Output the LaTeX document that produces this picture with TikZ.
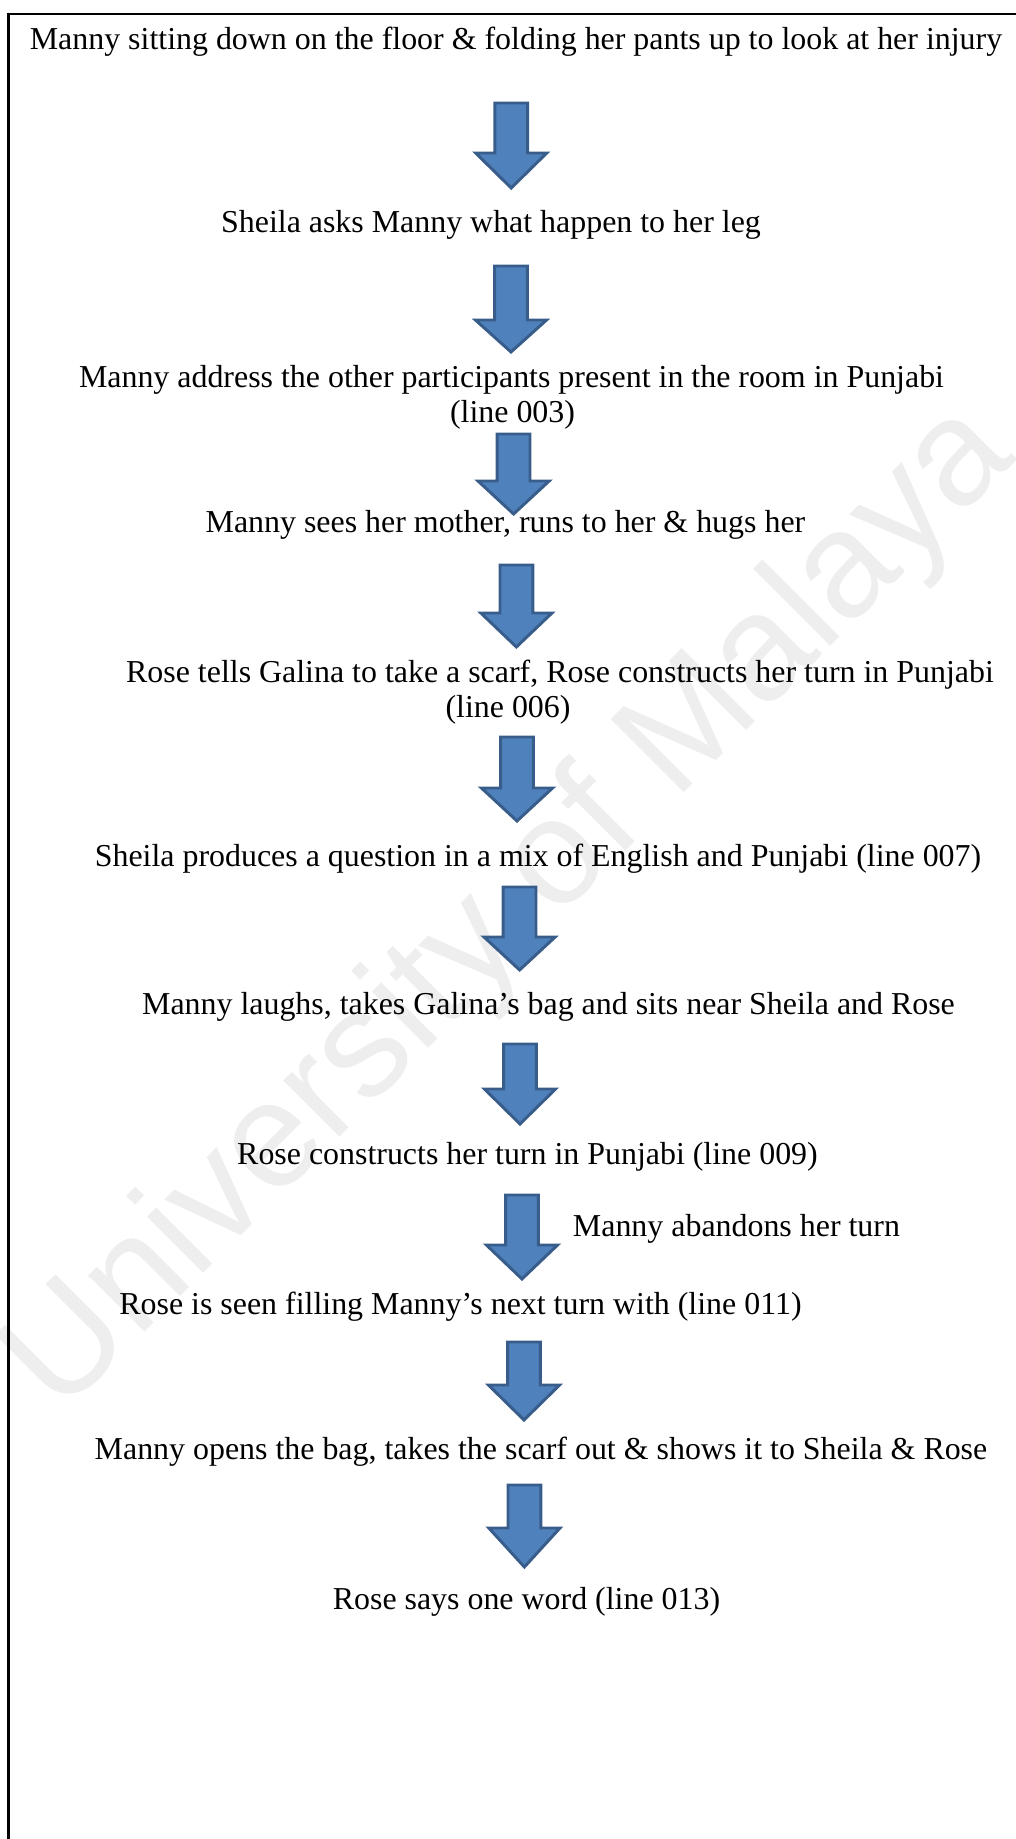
\documentclass[tikz,border=0pt]{standalone}
\usepackage{fontspec}
\setmainfont{Liberation Serif}
\newfontfamily\wmfamily{Liberation Sans}
\usepackage{tikz}
\definecolor{arrfill}{HTML}{4F81BD}
\definecolor{arrline}{HTML}{385D8A}
\definecolor{wmgray}{HTML}{EEEEEE}

% block arrow pointing down: x, top of shaft, top of head, tip
\newcommand{\downblock}[4]{%
  \draw[blockarr] (#1-0.41,#2) -- (#1+0.41,#2) -- (#1+0.41,#3) -- (#1+0.89,#3)
    -- (#1,#4) -- (#1-0.89,#3) -- (#1-0.41,#3) -- cycle;}

\begin{document}
\begin{tikzpicture}[
    txt/.style={font=\fontsize{22.7}{25}\selectfont, anchor=base, inner sep=0pt},
    blockarr/.style={fill=arrfill, draw=arrline, line width=2.1pt, line join=miter}
]
    \useasboundingbox (0,0) rectangle (25.4,45.975);

    % Watermark
    \node[rotate=45, text=wmgray, font=\wmfamily\fontsize{107}{107}\selectfont] (wm) at (12.8,23.225) {University of Malaya};

    % Frame (left and top edges only)
    \draw[line width=1.9pt] (0.2175,0) |- (25.4,45.625);

    % Steps
    \node[txt] (sit) at (12.9,44.725) {Manny sitting down on the floor \& folding her pants up to look at her injury};
    \node[txt] (ask) at (12.275,40.15) {Sheila asks Manny what happen to her leg};
    \node[txt] (address) at (12.7875,36.275) {Manny address the other participants present in the room in Punjabi};
    \node[txt] (addressline) at (12.8125,35.4) {(line 003)};
    \node[txt] (mother) at (12.6375,32.65) {Manny sees her mother, runs to her \& hugs her};
    \node[txt] (scarf) at (14.0,28.9) {Rose tells Galina to take a scarf, Rose constructs her turn in Punjabi};
    \node[txt] (scarfline) at (12.7,28.025) {(line 006)};
    \node[txt] (question) at (13.45,24.3) {Sheila produces a question in a mix of English and Punjabi (line 007)};
    \node[txt] (laughs) at (13.7125,20.6) {Manny laughs, takes Galina’s bag and sits near Sheila and Rose};
    \node[txt] (rosepunjabi) at (13.1875,16.85) {Rose constructs her turn in Punjabi (line 009)};
    \node[txt] (abandon) at (18.4125,15.05) {Manny abandons her turn};
    \node[txt] (filling) at (11.5125,13.1) {Rose is seen filling Manny’s next turn with (line 011)};
    \node[txt] (opens) at (13.525,9.475) {Manny opens the bag, takes the scarf out \& shows it to Sheila \& Rose};
    \node[txt] (oneword) at (13.1625,5.725) {Rose says one word (line 013)};

    % Block arrows
    \downblock{12.78}{43.4}{42.15}{41.275}
    \downblock{12.775}{39.325}{37.975}{37.175}
    \downblock{12.84}{35.125}{33.95}{33.125}
    \downblock{12.91}{31.85}{30.65}{29.8}
    \downblock{12.925}{27.55}{26.275}{25.45}
    \downblock{12.99}{23.8}{22.55}{21.725}
    \downblock{13.0}{19.875}{18.75}{17.875}
    \downblock{13.05}{16.1}{14.85}{14.0}
    \downblock{13.1}{12.425}{11.35}{10.475}
    \downblock{13.11}{8.85}{7.775}{6.8}

\end{tikzpicture}
\end{document}
